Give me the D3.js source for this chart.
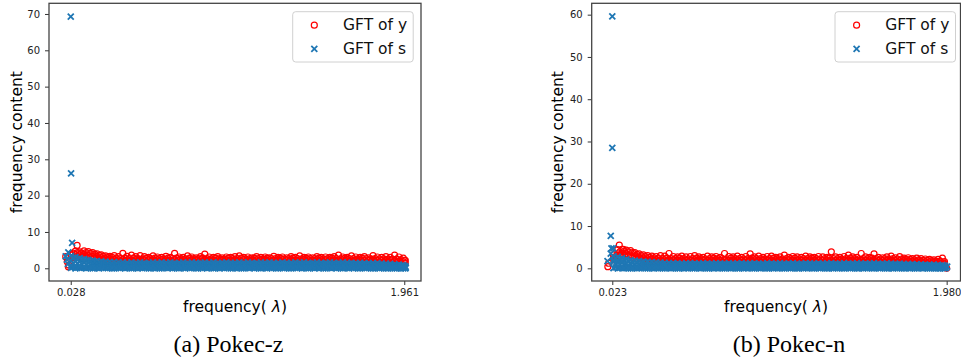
<!DOCTYPE html>
<html>
<head>
<meta charset="utf-8">
<script src="https://cdn.jsdelivr.net/npm/d3@7"></script>
<style>
  body { margin: 0; background: #fff; }
  svg { display: block; }
</style>
</head>
<body>
<div id="chart"></div>
<script>
// eigenvalue positions sampled along the dense band (shared by both panels)
const lam = [0.030,0.055,0.080,0.105,0.130,0.155,0.180,0.205,0.230,0.255,
  0.280,0.305,0.330,0.355,0.380,0.405,0.430,0.455,0.480,0.505,
  0.530,0.555,0.580,0.605,0.630,0.655,0.680,0.705,0.730,0.755,
  0.780,0.805,0.830,0.855,0.880,0.905,0.930,0.955,0.980,1.005,
  1.030,1.055,1.080,1.105,1.130,1.155,1.180,1.205,1.230,1.255,
  1.280,1.305,1.330,1.355,1.380,1.405,1.430,1.455,1.480,1.505,
  1.530,1.555,1.580,1.605,1.630,1.655,1.680,1.705,1.730,1.755,
  1.780,1.805,1.830,1.855,1.880,1.905,1.930,1.955];
// second set of eigenvalues, lying between the first ones
const lamMid = [0.042,0.067,0.092,0.117,0.142,0.167,0.192,0.217,0.242,0.267,
  0.292,0.317,0.342,0.367,0.392,0.417,0.442,0.467,0.492,0.517,
  0.542,0.567,0.592,0.617,0.642,0.667,0.692,0.717,0.742,0.767,
  0.792,0.817,0.842,0.867,0.892,0.917,0.942,0.967,0.992,1.017,
  1.042,1.067,1.092,1.117,1.142,1.167,1.192,1.217,1.242,1.267,
  1.292,1.317,1.342,1.367,1.392,1.417,1.442,1.467,1.492,1.517,
  1.542,1.567,1.592,1.617,1.642,1.667,1.692,1.717,1.742,1.767,
  1.792,1.817,1.842,1.867,1.892,1.917,1.942,1.967];

// ---- (a) Pokec-z ----
// GFT of y: red points, upper to lower (rows 1,3 at lam; rows 2,4 at lamMid)
const yR1A = [3.9,4.7,4.5,4.8,4.6,4.3,4.0,3.7,3.4,3.3,
  3.5,3.2,4.1,3.3,3.6,3.2,3.5,3.2,3.0,3.4,
  3.1,3.0,3.3,3.0,4.1,3.1,3.0,3.4,3.1,2.9,
  3.2,3.9,3.1,3.0,3.2,2.9,3.1,3.0,3.2,3.4,
  3.0,3.1,2.9,3.2,3.0,3.1,2.9,3.3,3.0,3.1,
  2.9,3.2,3.0,3.4,3.0,3.1,2.9,3.2,3.0,3.1,
  3.0,3.2,3.6,3.1,3.0,3.4,3.1,3.0,3.2,2.9,
  3.5,3.1,3.0,3.2,3.0,3.6,3.1,2.8];
const yR2A = [4.2,4.3,4.2,4.3,4.1,3.9,3.6,3.3,3.1,3.0,
  2.8,2.7,2.8,2.7,2.8,2.7,2.6,2.8,2.7,2.8,
  2.7,2.6,2.8,2.7,2.8,2.7,2.6,2.8,2.7,2.7,
  2.8,2.7,2.6,2.8,2.7,2.6,2.8,2.7,2.7,2.8,
  2.6,2.7,2.8,2.7,2.6,2.8,2.7,2.7,2.8,2.6,
  2.7,2.8,2.7,2.6,2.8,2.7,2.7,2.8,2.6,2.7,
  2.8,2.7,2.6,2.8,2.7,2.7,2.6,2.8,2.7,2.6,
  2.7,2.6,2.6,2.5,2.5,2.5,2.4,2.2];
const yR3A = [3.6,3.8,3.7,3.7,3.5,3.3,3.1,2.9,2.7,2.6,
  2.4,2.3,2.4,2.3,2.2,2.3,2.4,2.3,2.3,2.2,
  2.3,2.4,2.3,2.2,2.3,2.3,2.4,2.3,2.2,2.3,
  2.4,2.3,2.3,2.2,2.3,2.4,2.3,2.2,2.3,2.3,
  2.4,2.3,2.2,2.3,2.3,2.4,2.3,2.2,2.3,2.4,
  2.3,2.3,2.2,2.3,2.4,2.3,2.2,2.3,2.3,2.4,
  2.3,2.2,2.3,2.3,2.4,2.3,2.2,2.3,2.2,2.2,
  2.3,2.2,2.2,2.1,2.1,2.0,1.9,1.8];
const yR4A = [3.0,3.2,3.2,3.1,3.0,2.8,2.6,2.5,2.3,2.2,
  2.0,1.9,2.0,1.9,1.9,2.0,1.9,1.8,1.9,2.0,
  1.9,1.9,2.0,1.9,1.8,1.9,2.0,1.9,1.9,1.8,
  2.0,1.9,1.9,2.0,1.8,1.9,1.9,2.0,1.9,1.8,
  1.9,2.0,1.9,1.9,1.8,2.0,1.9,1.9,2.0,1.8,
  1.9,1.9,2.0,1.9,1.8,1.9,2.0,1.9,1.9,1.8,
  2.0,1.9,1.9,1.8,1.9,2.0,1.9,1.8,1.8,1.8,
  1.8,1.8,1.7,1.7,1.6,1.6,1.5,1.4];
// GFT of s: blue points, upper to lower (odd rows at lam, even rows at lamMid)
const sR1A = [3.4,3.1,2.8,2.5,2.3,2.1,2.0,1.9,1.8,1.7,
  1.7,1.6,1.6,1.5,1.6,1.5,1.6,1.5,1.5,1.6,
  1.5,1.6,1.5,1.6,1.5,1.5,1.6,1.5,1.6,1.5,
  1.5,1.6,1.5,1.6,1.5,1.5,1.6,1.5,1.5,1.6,
  1.5,1.6,1.5,1.5,1.6,1.5,1.6,1.5,1.5,1.6,
  1.5,1.5,1.6,1.5,1.6,1.5,1.5,1.6,1.5,1.5,
  1.6,1.5,1.5,1.6,1.5,1.5,1.4,1.5,1.4,1.4,
  1.4,1.4,1.3,1.3,1.2,1.1,1.0,0.9];
const sR2A = [2.9,2.6,2.4,2.2,2.0,1.8,1.6,1.5,1.4,1.3,
  1.2,1.2,1.1,1.2,1.1,1.2,1.2,1.1,1.2,1.1,
  1.2,1.1,1.2,1.2,1.1,1.2,1.1,1.2,1.1,1.2,
  1.2,1.1,1.2,1.1,1.2,1.2,1.1,1.2,1.1,1.2,
  1.1,1.2,1.2,1.1,1.2,1.1,1.2,1.1,1.2,1.2,
  1.1,1.2,1.1,1.2,1.1,1.2,1.2,1.1,1.2,1.1,
  1.2,1.1,1.2,1.1,1.2,1.1,1.1,1.1,1.0,1.0,
  1.0,1.0,0.9,0.9,0.8,0.8,0.7,0.6];
const sR3A = [2.2,2.0,1.8,1.6,1.5,1.3,1.2,1.0,0.9,0.9,
  0.8,0.9,0.8,0.8,0.7,0.8,0.9,0.8,0.8,0.7,
  0.8,0.8,0.9,0.8,0.7,0.8,0.8,0.9,0.8,0.8,
  0.7,0.8,0.8,0.9,0.8,0.7,0.8,0.8,0.9,0.8,
  0.8,0.7,0.8,0.9,0.8,0.8,0.7,0.8,0.8,0.9,
  0.8,0.8,0.7,0.8,0.9,0.8,0.8,0.7,0.8,0.8,
  0.9,0.8,0.8,0.7,0.8,0.8,0.7,0.8,0.7,0.7,
  0.7,0.6,0.6,0.6,0.5,0.5,0.5,0.4];
const sR4A = [1.4,1.3,1.2,1.0,0.9,0.8,0.7,0.6,0.55,0.5,
  0.45,0.5,0.4,0.45,0.5,0.4,0.45,0.5,0.45,0.4,
  0.5,0.45,0.4,0.5,0.45,0.4,0.5,0.45,0.45,0.4,
  0.5,0.45,0.4,0.5,0.45,0.4,0.45,0.5,0.4,0.45,
  0.5,0.4,0.45,0.45,0.5,0.4,0.45,0.5,0.4,0.45,
  0.45,0.5,0.4,0.45,0.5,0.4,0.45,0.4,0.5,0.45,
  0.4,0.5,0.45,0.4,0.45,0.5,0.4,0.45,0.4,0.4,
  0.4,0.35,0.35,0.3,0.3,0.3,0.25,0.2];
const sR5A = [0.1,0.0,0.1,0.2,0.1,0.0,0.1,0.2,0.1,0.1,
  0.0,0.1,0.2,0.1,0.0,0.1,0.1,0.2,0.0,0.1,
  0.1,0.0,0.2,0.1,0.1,0.0,0.1,0.2,0.1,0.0,
  0.1,0.2,0.1,0.0,0.1,0.1,0.2,0.0,0.1,0.1,
  0.0,0.1,0.2,0.1,0.0,0.1,0.1,0.2,0.0,0.1,
  0.1,0.0,0.2,0.1,0.1,0.0,0.1,0.2,0.1,0.0,
  0.1,0.2,0.1,0.0,0.1,0.1,0.2,0.0,0.1,0.1,
  0.0,0.1,0.1,0.0,0.1,0.0,0.1,0.0];
const sR6A = [0.3,0.2,0.1,0.0,0.1,0.05,0.0,0.1,0.05,0.0,
  0.1,0.05,0.0,0.1,0.05,0.0,0.05,0.1,0.0,0.05,
  0.0,0.1,0.05,0.0,0.05,0.1,0.0,0.05,0.1,0.0,
  0.05,0.0,0.1,0.05,0.0,0.05,0.1,0.0,0.05,0.0,
  0.1,0.05,0.0,0.05,0.1,0.0,0.05,0.0,0.1,0.05,
  0.0,0.1,0.05,0.0,0.05,0.1,0.0,0.05,0.0,0.1,
  0.05,0.0,0.05,0.1,0.0,0.05,0.0,0.1,0.05,0.0,
  0.05,0.0,0.05,0.0,0.05,0.0,0.0,0.0];
// isolated points [lambda, value]
const yOutA = [[0.065,6.3],[0.014,0.4],[0.017,0.9],[-0.001,3.2],[0.008,1.8],[1.963,2.2],[1.958,0.6]];
const sOutA = [[0.028,69.3],[0.030,26.1],[0.036,7.0],[0.014,4.4],[-0.001,3.3],[0.006,2.4],[0.012,1.2],
  [0.030,0.8],[0.055,0.7],[0.080,0.6],[1.961,0.45],[1.970,0.2],[1.945,0.7]];
const xTicksA = [0.028, 1.961];
const yTicksA = [0, 10, 20, 30, 40, 50, 60, 70];

// ---- (b) Pokec-n ----
const yR1B = [3.2,4.4,4.5,4.3,4.2,3.7,3.4,3.2,3.0,2.9,
  2.8,3.0,2.9,3.5,2.8,2.7,2.9,2.7,2.8,3.0,
  2.7,2.6,2.9,2.7,2.8,2.6,3.5,2.8,2.7,2.9,
  2.6,2.8,3.4,2.7,2.9,2.6,2.8,2.9,2.6,2.7,
  3.1,2.6,2.8,2.7,2.6,2.9,2.7,2.6,2.8,2.7,
  2.6,3.9,2.7,2.6,2.8,3.1,2.7,2.6,3.5,2.7,
  2.6,3.4,2.6,2.5,2.7,2.9,2.5,2.75,2.4,2.5,
  2.3,2.4,2.3,2.2,2.1,2.0,2.1,2.4];
const yR2B = [2.8,3.9,4.0,3.9,3.7,3.3,3.0,2.8,2.6,2.5,
  2.4,2.3,2.4,2.3,2.3,2.4,2.3,2.2,2.3,2.4,
  2.3,2.2,2.3,2.4,2.3,2.3,2.2,2.4,2.3,2.3,
  2.2,2.3,2.4,2.3,2.3,2.2,2.3,2.4,2.3,2.2,
  2.3,2.3,2.4,2.2,2.3,2.3,2.4,2.3,2.2,2.3,
  2.4,2.3,2.3,2.2,2.3,2.4,2.3,2.2,2.3,2.3,
  2.4,2.3,2.2,2.3,2.2,2.3,2.2,2.2,2.1,2.1,
  2.0,2.0,1.9,1.9,1.8,1.7,1.7,1.6];
const yR3B = [2.3,3.4,3.5,3.4,3.1,2.8,2.6,2.4,2.2,2.1,
  2.0,1.9,2.0,1.9,2.0,1.9,2.0,1.9,1.9,2.0,
  1.9,2.0,1.9,1.9,2.0,1.9,2.0,1.9,1.9,2.0,
  1.9,2.0,1.9,2.0,1.9,1.9,2.0,1.9,2.0,1.9,
  1.9,2.0,1.9,2.0,1.9,1.9,2.0,1.9,2.0,1.9,
  2.0,1.9,1.9,2.0,1.9,2.0,1.9,1.9,2.0,1.9,
  2.0,1.9,1.9,1.9,1.8,1.9,1.8,1.8,1.8,1.7,
  1.7,1.6,1.6,1.5,1.5,1.4,1.4,1.3];
const yR4B = [1.9,2.9,3.0,2.9,2.6,2.4,2.2,2.0,1.9,1.8,
  1.7,1.6,1.7,1.6,1.6,1.7,1.6,1.5,1.6,1.7,
  1.6,1.5,1.6,1.7,1.6,1.6,1.5,1.7,1.6,1.6,
  1.5,1.6,1.7,1.6,1.6,1.5,1.6,1.7,1.6,1.5,
  1.6,1.6,1.7,1.5,1.6,1.6,1.7,1.6,1.5,1.6,
  1.7,1.6,1.6,1.5,1.6,1.7,1.6,1.5,1.6,1.6,
  1.7,1.6,1.5,1.6,1.5,1.6,1.5,1.5,1.5,1.4,
  1.4,1.3,1.3,1.2,1.2,1.1,1.1,1.0];
const sR1B = [2.9,2.7,2.4,2.1,1.9,1.8,1.7,1.6,1.5,1.45,
  1.4,1.35,1.3,1.2,1.25,1.2,1.1,1.2,1.15,1.2,
  1.1,1.2,1.15,1.1,1.2,1.15,1.1,1.2,1.1,1.15,
  1.2,1.1,1.15,1.2,1.1,1.1,1.2,1.15,1.1,1.2,
  1.1,1.15,1.2,1.1,1.1,1.2,1.15,1.1,1.2,1.1,
  1.15,1.2,1.1,1.1,1.2,1.15,1.1,1.2,1.1,1.15,
  1.1,1.2,1.1,1.1,1.15,1.1,1.05,1.1,1.0,1.05,
  1.0,1.0,0.95,0.9,0.9,0.85,0.8,0.75];
const sR2B = [2.4,2.2,2.0,1.75,1.6,1.5,1.4,1.3,1.2,1.1,
  1.0,0.95,0.9,0.85,0.9,0.85,0.8,0.9,0.85,0.9,
  0.8,0.9,0.85,0.8,0.9,0.85,0.8,0.9,0.8,0.85,
  0.9,0.8,0.85,0.9,0.8,0.85,0.9,0.85,0.8,0.9,
  0.8,0.85,0.9,0.8,0.85,0.9,0.85,0.8,0.9,0.8,
  0.85,0.9,0.8,0.85,0.9,0.85,0.8,0.9,0.8,0.85,
  0.8,0.9,0.8,0.85,0.85,0.8,0.8,0.8,0.75,0.75,
  0.7,0.7,0.7,0.65,0.65,0.6,0.6,0.55];
const sR3B = [1.5,1.4,1.3,1.1,1.0,0.9,0.8,0.7,0.7,0.6,
  0.6,0.7,0.6,0.5,0.6,0.6,0.7,0.6,0.5,0.6,
  0.6,0.7,0.6,0.5,0.6,0.6,0.7,0.6,0.5,0.6,
  0.6,0.7,0.6,0.5,0.6,0.6,0.7,0.6,0.5,0.6,
  0.6,0.7,0.6,0.5,0.6,0.6,0.7,0.6,0.5,0.6,
  0.6,0.7,0.6,0.5,0.6,0.6,0.7,0.6,0.5,0.6,
  0.6,0.7,0.6,0.5,0.6,0.6,0.5,0.6,0.5,0.5,
  0.5,0.5,0.4,0.4,0.4,0.4,0.3,0.3];
const sR4B = [1.0,0.9,0.8,0.7,0.6,0.55,0.5,0.45,0.4,0.35,
  0.35,0.3,0.35,0.3,0.3,0.35,0.3,0.25,0.3,0.35,
  0.3,0.3,0.35,0.25,0.3,0.35,0.3,0.3,0.25,0.35,
  0.3,0.3,0.35,0.3,0.25,0.3,0.35,0.3,0.3,0.35,
  0.25,0.3,0.35,0.3,0.3,0.25,0.35,0.3,0.3,0.35,
  0.3,0.25,0.3,0.35,0.3,0.3,0.35,0.25,0.3,0.3,
  0.35,0.3,0.3,0.25,0.3,0.3,0.25,0.3,0.25,0.25,
  0.25,0.2,0.2,0.2,0.2,0.15,0.15,0.1];
const sR5B = [0.05,0.0,0.1,0.05,0.0,0.1,0.05,0.1,0.0,0.05,
  0.1,0.05,0.0,0.1,0.05,0.0,0.1,0.05,0.1,0.0,
  0.05,0.1,0.0,0.05,0.1,0.05,0.0,0.1,0.05,0.0,
  0.1,0.05,0.1,0.0,0.05,0.1,0.0,0.05,0.1,0.05,
  0.0,0.1,0.05,0.0,0.1,0.05,0.1,0.0,0.05,0.1,
  0.0,0.05,0.1,0.05,0.0,0.1,0.05,0.0,0.1,0.05,
  0.1,0.0,0.05,0.1,0.0,0.05,0.1,0.05,0.0,0.1,
  0.05,0.0,0.1,0.05,0.0,0.05,0.0,0.05];
const sR6B = [0.2,0.1,0.05,0.0,0.05,0.0,0.1,0.0,0.05,0.0,
  0.05,0.0,0.1,0.0,0.05,0.0,0.0,0.05,0.0,0.1,
  0.0,0.05,0.0,0.0,0.05,0.0,0.1,0.0,0.05,0.0,
  0.0,0.05,0.0,0.1,0.0,0.05,0.0,0.0,0.05,0.0,
  0.1,0.0,0.05,0.0,0.0,0.05,0.0,0.1,0.0,0.05,
  0.0,0.0,0.05,0.0,0.1,0.0,0.05,0.0,0.0,0.05,
  0.0,0.1,0.0,0.05,0.0,0.0,0.05,0.0,0.05,0.0,
  0.0,0.05,0.0,0.0,0.05,0.0,0.0,0.0];
const yOutB = [[0.064,5.5],[0.088,4.5],[-0.003,0.4],[0.001,1.2],[1.980,0.0],[1.968,1.2]];
const sOutB = [[0.023,59.6],[0.023,28.5],[0.014,7.7],[0.018,4.7],[0.029,4.7],[0.014,3.5],[-0.005,1.7],
  [0.030,2.0],[0.055,1.9],[0.080,1.7],[1.983,0.4],[1.970,0.6],[1.975,0.1]];
const xTicksB = [0.023, 1.980];
const yTicksB = [0, 10, 20, 30, 40, 50, 60];

const seriesNames = ["GFT of y", "GFT of s"];
const captions = ["(a) Pokec-z", "(b) Pokec-n"];

const RED = "#ff0000", BLUE = "#1f77b4";
const sans = "DejaVu Sans", serif = "Liberation Serif";
const plotTop = 3.3, plotBottom = 281;

const svg = d3.select("#chart")
  .append("svg")
  .attr("width", 961)
  .attr("height", 363);

const panels = [
  { redRows: [yR1A, yR2A, yR3A, yR4A], blueRows: [sR1A, sR2A, sR3A, sR4A, sR5A, sR6A], yOut: yOutA, sOut: sOutA,
    xTicks: xTicksA, yTicks: yTicksA, caption: captions[0],
    xDomain: [-0.098, 2.058], yDomain: [-3.5, 72.94], left: 49, right: 421,
    capX: 228.5, legX: 292.7, ylabX: 21.5 },
  { redRows: [yR1B, yR2B, yR3B, yR4B], blueRows: [sR1B, sR2B, sR3B, sR4B, sR5B, sR6B], yOut: yOutB, sOut: sOutB,
    xTicks: xTicksB, yTicks: yTicksB, caption: captions[1],
    xDomain: [-0.0975, 2.061], yDomain: [-3.0, 62.69], left: 591.7, right: 960.5,
    capX: 789, legX: 835, ylabX: 563 }
];

const crossPath = "M-3,-3L3,3M-3,3L3,-3";
// rows alternate between the two eigenvalue sets
const rowPos = r => (r % 2 === 0 ? lam : lamMid);

panels.forEach((p, k) => {
  const x = d3.scaleLinear().domain(p.xDomain).range([p.left, p.right]);
  const y = d3.scaleLinear().domain(p.yDomain).range([plotBottom, plotTop]);

  const g = svg.append("g");
  const clipId = "clip" + k;
  g.append("clipPath").attr("id", clipId)
    .append("rect")
    .attr("x", p.left).attr("y", plotTop)
    .attr("width", p.right - p.left).attr("height", plotBottom - plotTop);

  const redPts = p.redRows.flatMap((row, r) => rowPos(r).map((l, i) => [l, row[i]])).concat(p.yOut);
  const bluePts = p.blueRows.flatMap((row, r) => rowPos(r).map((l, i) => [l, row[i]])).concat(p.sOut);

  const plot = g.append("g").attr("clip-path", `url(#${clipId})`);

  // GFT of y: hollow red circles
  plot.selectAll(".ry")
    .data(redPts)
    .enter().append("circle")
    .attr("cx", d => x(d[0]))
    .attr("cy", d => y(d[1]))
    .attr("r", 3)
    .attr("fill", "none")
    .attr("stroke", RED)
    .attr("stroke-width", 1.2);

  // GFT of s: blue x markers on top
  plot.selectAll(".bs")
    .data(bluePts)
    .enter().append("path")
    .attr("transform", d => `translate(${x(d[0])},${y(d[1])})`)
    .attr("d", crossPath)
    .attr("stroke", BLUE)
    .attr("stroke-width", 1.8)
    .attr("fill", "none");

  // axes
  const yAxis = g.append("g")
    .attr("transform", `translate(${p.left},0)`)
    .call(d3.axisLeft(y).tickValues(p.yTicks).tickSize(4).tickPadding(5));
  const xAxis = g.append("g")
    .attr("transform", `translate(0,${plotBottom})`)
    .call(d3.axisBottom(x).tickValues(p.xTicks).tickFormat(d3.format(".3f")).tickSize(4).tickPadding(4));
  [yAxis, xAxis].forEach(a => {
    a.select(".domain").remove();
    a.selectAll("line").attr("stroke", "#333").attr("stroke-width", 1);
    a.selectAll("text").attr("font-family", sans).attr("font-size", "10px").attr("fill", "#222");
  });

  // frame
  g.append("rect")
    .attr("x", p.left).attr("y", plotTop)
    .attr("width", p.right - p.left).attr("height", plotBottom - plotTop)
    .attr("fill", "none")
    .attr("stroke", "#444")
    .attr("stroke-width", 1.3);

  // axis labels
  g.append("text")
    .attr("transform", `translate(${p.ylabX},${(plotTop + plotBottom) / 2}) rotate(-90)`)
    .attr("text-anchor", "middle")
    .attr("font-family", sans).attr("font-size", "15.5px")
    .text("frequency content");

  const xl = g.append("text")
    .attr("x", (p.left + p.right) / 2).attr("y", 312)
    .attr("text-anchor", "middle")
    .attr("font-family", sans).attr("font-size", "15.5px");
  xl.append("tspan").text("frequency( ");
  xl.append("tspan").attr("font-style", "italic").text("λ");
  xl.append("tspan").text(")");

  // legend
  const leg = g.append("g").attr("transform", `translate(${p.legX},11.7)`);
  leg.append("rect")
    .attr("width", 120.5).attr("height", 50.3).attr("rx", 3)
    .attr("fill", "#fff").attr("fill-opacity", 0.8)
    .attr("stroke", "#d0d0d0").attr("stroke-width", 1);
  leg.append("circle")
    .attr("cx", 21.6).attr("cy", 13.5).attr("r", 3)
    .attr("fill", "none").attr("stroke", RED).attr("stroke-width", 1.2);
  leg.append("path")
    .attr("transform", "translate(21.6,37.2)")
    .attr("d", crossPath).attr("stroke", BLUE).attr("stroke-width", 1.8);
  leg.selectAll(".lt")
    .data(seriesNames)
    .enter().append("text")
    .attr("x", 50.3)
    .attr("y", (d, i) => 18.5 + i * 23.5)
    .attr("font-family", sans).attr("font-size", "15.5px")
    .attr("fill", "#111")
    .text(d => d);

  // caption
  g.append("text")
    .attr("x", p.capX).attr("y", 352)
    .attr("text-anchor", "middle")
    .attr("font-family", serif).attr("font-size", "24px")
    .text(p.caption);
});
</script>
</body>
</html>
